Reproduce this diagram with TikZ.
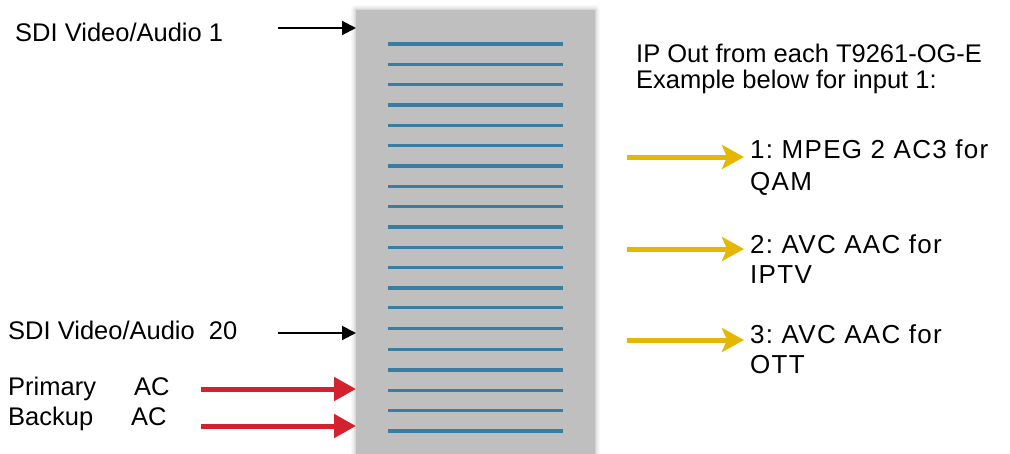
\documentclass[tikz,border=0pt]{standalone}
\usepackage{fontspec}
\setmainfont{Liberation Sans}
\newfontfamily\widesans[LetterSpace=5]{Liberation Sans}
\frenchspacing
\usetikzlibrary{arrows.meta,shadows.blur}
\definecolor{chassisgray}{RGB}{191,191,191}
\definecolor{slotblue}{RGB}{58,124,162}
\definecolor{acred}{RGB}{211,34,45}
\definecolor{ipyellow}{RGB}{229,183,0}
\begin{document}
\begin{tikzpicture}
    [
    x=1pt,y=-1pt,
    txt/.style={anchor=base west,inner sep=0pt,align=left,font=\fontsize{25.5}{31}\selectfont},
    outtxt/.style={txt,inner xsep=6pt},
    chassis/.style={fill=chassisgray,minimum width=239pt,minimum height=450pt,outer sep=0pt,
      blur shadow={shadow xshift=0pt,shadow yshift=0pt,shadow blur radius=5pt,shadow opacity=35}},
    slot/.style={draw=slotblue,line width=3.5pt},
    sdi/.style={line width=2pt,-{Triangle[length=14pt,width=14pt]}},
    ac/.style={draw=acred,line width=5pt,-{Triangle[length=22pt,width=23pt]}},
    ip/.style={draw=ipyellow,line width=5pt,-{Stealth[length=22pt,width=24pt,inset=5pt]}}
    ]
    \useasboundingbox (0,0) rectangle (1010,453);
    \node (chassis) at (475.5,235) [chassis] {};
    \draw [slot] (388,44) -- (563,44);
    \draw [slot] (388,64.4) -- (563,64.4);
    \draw [slot] (388,84.7) -- (563,84.7);
    \draw [slot] (388,105) -- (563,105);
    \draw [slot] (388,125.4) -- (563,125.4);
    \draw [slot] (388,145.7) -- (563,145.7);
    \draw [slot] (388,166) -- (563,166);
    \draw [slot] (388,186.4) -- (563,186.4);
    \draw [slot] (388,206.7) -- (563,206.7);
    \draw [slot] (388,227) -- (563,227);
    \draw [slot] (388,247.4) -- (563,247.4);
    \draw [slot] (388,267.7) -- (563,267.7);
    \draw [slot] (388,288) -- (563,288);
    \draw [slot] (388,307.5) -- (563,307.5);
    \draw [slot] (388,328.5) -- (563,328.5);
    \draw [slot] (388,349.5) -- (563,349.5);
    \draw [slot] (388,370) -- (563,370);
    \draw [slot] (388,390.5) -- (563,390.5);
    \draw [slot] (388,410.5) -- (563,410.5);
    \draw [slot] (388,431) -- (563,431);

    % inputs
    \node (sdi1) at (15,41.5) [txt] {SDI Video/Audio 1};
    \node (sdi20) at (8,339) [txt] {SDI Video/Audio\ \ 20};
    \node (prim) at (8,395) [txt] {Primary\hspace{38pt}AC};
    \node (back) at (8,425) [txt] {Backup\hspace{38pt}AC};
    \coordinate (in1) at (278,28);
    \coordinate (in20) at (278,333);
    \coordinate (acp) at (201,389);
    \coordinate (acb) at (201,426);
    \draw [sdi] (in1) -- (in1 -| chassis.west);
    \draw [sdi] (in20) -- (in20 -| chassis.west);
    \draw [ac] (acp) -- (acp -| chassis.west);
    \draw [ac] (acb) -- (acb -| chassis.west);

    % outputs (base = last line)
    \node (ipout) at (636,88) [txt,font=\fontsize{25.5}{26}\selectfont] {IP Out from each T9261-OG-E\\Example below for input 1:};
    \node (out1) at (744,190) [outtxt,font=\widesans\fontsize{26}{32}\selectfont] {1: MPEG 2 AC3 for\\QAM};
    \node (out2) at (744,283) [outtxt,font=\widesans\fontsize{26}{30}\selectfont] {2: AVC AAC for\\IPTV};
    \node (out3) at (744,373) [outtxt,font=\widesans\fontsize{26}{30}\selectfont] {3: AVC AAC for\\OTT};
    \coordinate (ip1) at (627,157);
    \coordinate (ip2) at (627,249);
    \coordinate (ip3) at (627,340);
    \draw [ip] (ip1) -- (ip1 -| out1.west);
    \draw [ip] (ip2) -- (ip2 -| out2.west);
    \draw [ip] (ip3) -- (ip3 -| out3.west);
\end{tikzpicture}
\end{document}
